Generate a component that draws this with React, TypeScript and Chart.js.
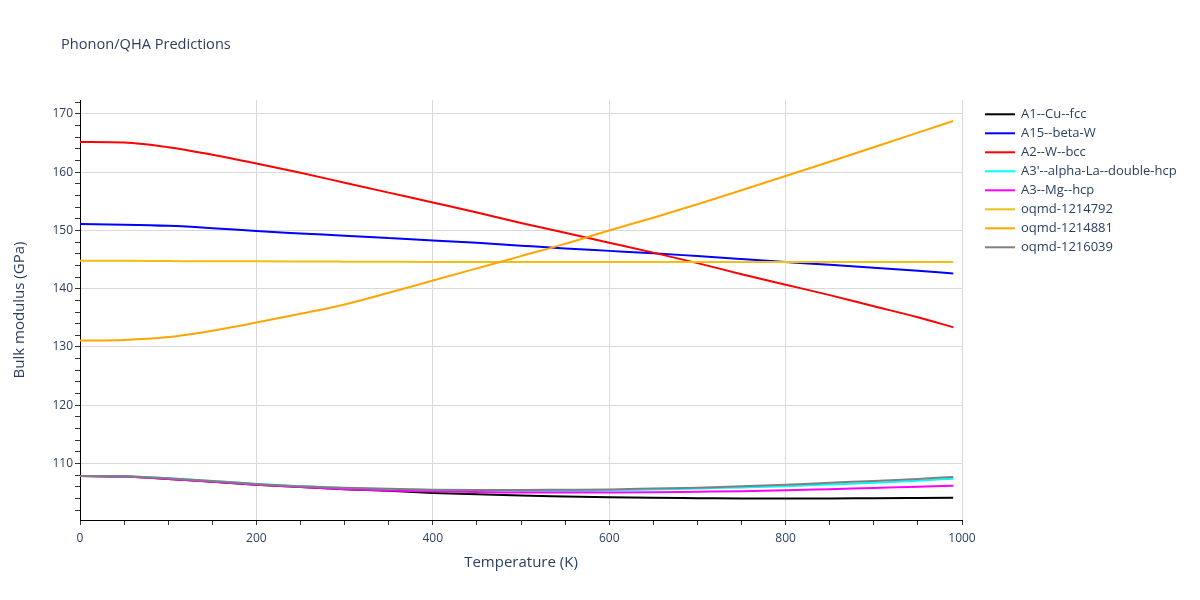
import React, { useEffect, useRef } from "react";
import { Chart, registerables } from "chart.js";

Chart.register(...registerables);

const temperatures = [0, 50, 100, 150, 200, 250, 300, 350, 400, 450, 500, 550, 600, 650, 700, 750, 800, 850, 900, 950, 990];

const cuFcc = [107.85, 107.75, 107.35, 106.85, 106.35, 105.95, 105.6, 105.3, 104.95, 104.7, 104.5, 104.35, 104.2, 104.1, 104.05, 104.0, 104.0, 104.0, 104.05, 104.08, 104.1];
const betaW = [151.1, 151.0, 150.8, 150.4, 149.9, 149.5, 149.1, 148.7, 148.3, 147.9, 147.4, 146.9, 146.5, 146.1, 145.6, 145.1, 144.6, 144.1, 143.6, 143.1, 142.6];
const wBcc = [165.2, 165.1, 164.3, 163.0, 161.5, 159.9, 158.2, 156.5, 154.8, 153.1, 151.3, 149.6, 147.9, 146.2, 144.4, 142.5, 140.7, 138.9, 137.0, 135.1, 133.4];
const alphaLa = [107.85, 107.8, 107.45, 107.0, 106.5, 106.1, 105.8, 105.6, 105.45, 105.35, 105.3, 105.3, 105.4, 105.55, 105.7, 105.9, 106.1, 106.4, 106.7, 107.05, 107.4];
const mgHcp = [107.85, 107.75, 107.35, 106.85, 106.35, 105.95, 105.6, 105.35, 105.2, 105.1, 105.0, 105.0, 105.0, 105.05, 105.15, 105.25, 105.4, 105.6, 105.8, 106.0, 106.2];
const oqmd1214792 = [144.8, 144.8, 144.75, 144.7, 144.7, 144.68, 144.65, 144.62, 144.6, 144.6, 144.6, 144.6, 144.6, 144.6, 144.6, 144.6, 144.6, 144.6, 144.6, 144.6, 144.6];
const oqmd1214881 = [131.1, 131.2, 131.7, 132.8, 134.2, 135.7, 137.3, 139.3, 141.4, 143.5, 145.6, 147.7, 150.0, 152.2, 154.5, 156.9, 159.35, 161.8, 164.3, 166.8, 168.8];
const oqmd1216039 = [107.85, 107.8, 107.45, 107.0, 106.5, 106.1, 105.85, 105.65, 105.5, 105.45, 105.45, 105.5, 105.55, 105.7, 105.85, 106.1, 106.35, 106.7, 107.0, 107.35, 107.7];

const seriesNames = [
  "A1--Cu--fcc",
  "A15--beta-W",
  "A2--W--bcc",
  "A3'--alpha-La--double-hcp",
  "A3--Mg--hcp",
  "oqmd-1214792",
  "oqmd-1214881",
  "oqmd-1216039",
];
const seriesValues = [cuFcc, betaW, wBcc, alphaLa, mgHcp, oqmd1214792, oqmd1214881, oqmd1216039];
const seriesColors = ["#000000", "#0000ff", "#ff0000", "#00ffff", "#ff00ff", "#eec014", "#ffa500", "#808080"];

const xTickStep = 50;
const xLabelStep = 200;
const yTickStep = 2;
const yLabelStep = 10;

const TEXT = "#2a3f5f";
const FONT = "'Open Sans', verdana, arial, sans-serif";

const overlayPlugin = {
  id: "overlay",
  afterDraw(chart: any) {
    const ctx = chart.ctx;
    ctx.save();
    ctx.fillStyle = TEXT;
    ctx.font = `14.6px ${FONT}`;
    ctx.textAlign = "left";
    ctx.textBaseline = "middle";
    ctx.fillText("Phonon/QHA Predictions", 61, 45);

    ctx.font = `13px ${FONT}`;
    chart.data.datasets.forEach((ds: any, i: number) => {
      const y = 114.3 + i * 19;
      ctx.strokeStyle = ds.borderColor;
      ctx.lineWidth = 2;
      ctx.beginPath();
      ctx.moveTo(985, y);
      ctx.lineTo(1015, y);
      ctx.stroke();
      ctx.fillStyle = TEXT;
      ctx.fillText(ds.label, 1021, y);
    });
    ctx.restore();
  },
};

export default function App() {
  const ref = useRef<HTMLCanvasElement | null>(null);

  useEffect(() => {
    if (!ref.current) return;
    const n = seriesNames.length;
    const chart = new Chart(ref.current, {
      type: "line",
      data: {
        datasets: seriesNames.map((name, i) => ({
          label: name,
          data: temperatures.map((t, j) => ({ x: t, y: seriesValues[i][j] })),
          borderColor: seriesColors[i],
          backgroundColor: seriesColors[i],
          borderWidth: 2,
          pointRadius: 0,
          cubicInterpolationMode: "monotone" as const,
          order: n - i,
        })),
      },
      options: {
        animation: false,
        responsive: false,
        devicePixelRatio: 1,
        layout: { padding: { left: 0, right: 238, top: 100, bottom: 0 } },
        plugins: {
          legend: { display: false },
          title: { display: false },
          tooltip: { enabled: false },
        },
        scales: {
          x: {
            type: "linear",
            min: 0,
            max: 1000,
            afterFit: (s: any) => {
              s.height = 80;
            },
            border: { display: true, color: "#000", width: 1 },
            grid: {
              color: (c: any) => (c.tick && c.tick.value % xLabelStep === 0 ? "#d9d9d9" : "rgba(0,0,0,0)"),
              tickColor: "#333",
              tickLength: 5,
              lineWidth: 1,
            },
            ticks: {
              stepSize: xTickStep,
              autoSkip: false,
              includeBounds: false,
              maxRotation: 0,
              padding: 6,
              color: TEXT,
              font: { family: FONT, size: 12 },
              callback: (v: any) => (Number(v) % xLabelStep === 0 ? String(v) : ""),
            },
            title: {
              display: true,
              text: "Temperature (K)",
              color: TEXT,
              font: { family: FONT, size: 15 },
              padding: { top: 0, bottom: 28 },
            },
          },
          y: {
            type: "linear",
            min: 100.3,
            max: 172.4,
            afterFit: (s: any) => {
              s.width = 80;
            },
            border: { display: true, color: "#000", width: 1 },
            grid: {
              color: (c: any) => (c.tick && c.tick.value % yLabelStep === 0 ? "#d9d9d9" : "rgba(0,0,0,0)"),
              tickColor: "#333",
              tickLength: 5,
              lineWidth: 1,
            },
            ticks: {
              stepSize: yTickStep,
              autoSkip: false,
              includeBounds: false,
              padding: 2,
              color: TEXT,
              font: { family: FONT, size: 12 },
              callback: (v: any) => (Number(v) % yLabelStep === 0 ? String(v) : ""),
            },
            title: {
              display: true,
              text: "Bulk modulus (GPa)",
              color: TEXT,
              font: { family: FONT, size: 15 },
              padding: { top: 11, bottom: 0 },
            },
          },
        },
      },
      plugins: [overlayPlugin],
    });
    return () => chart.destroy();
  }, []);

  return (
    <div style={{ position: "absolute", left: 0, top: 0, width: 1200, height: 600, background: "#fff" }}>
      <canvas ref={ref} width={1200} height={600} style={{ width: 1200, height: 600 }} />
    </div>
  );
}
